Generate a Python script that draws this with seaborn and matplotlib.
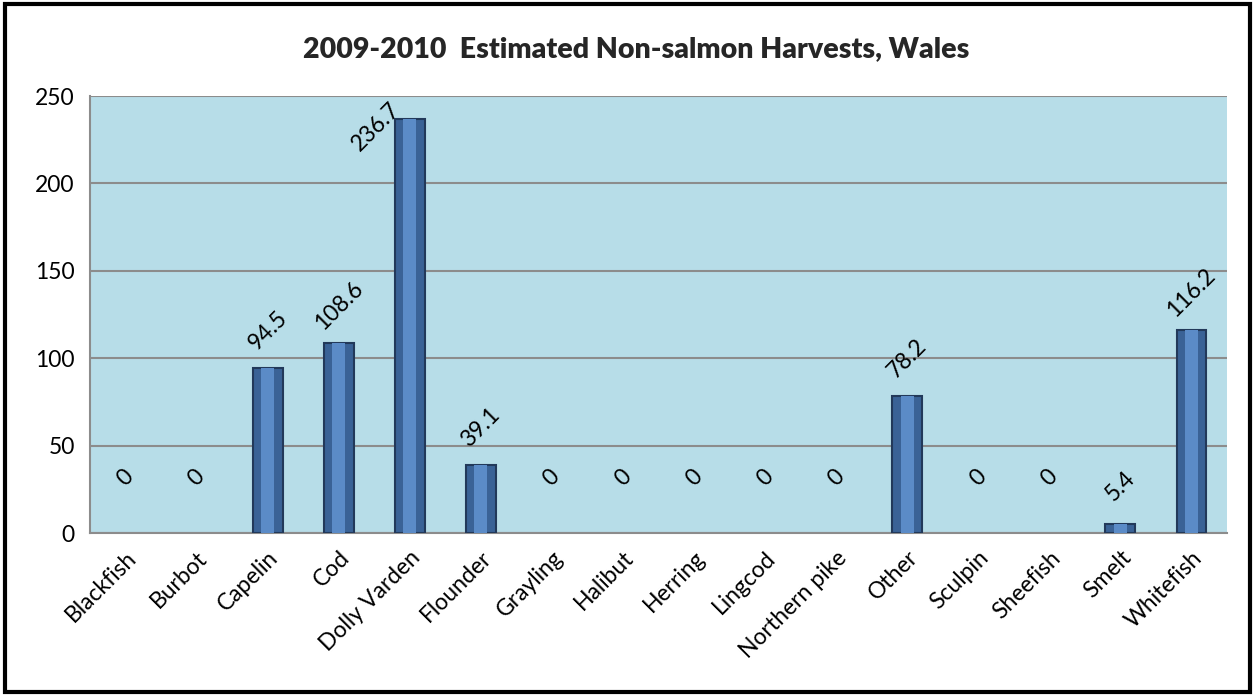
import matplotlib
matplotlib.use("Agg")
import matplotlib.pyplot as plt
import seaborn as sns
import pandas as pd
from matplotlib.patches import Rectangle

species = ['Blackfish', 'Burbot', 'Capelin', 'Cod', 'Dolly Varden', 'Flounder',
           'Grayling', 'Halibut', 'Herring', 'Lingcod', 'Northern pike', 'Other',
           'Sculpin', 'Sheefish', 'Smelt', 'Whitefish']
harvest = [0, 0, 94.5, 108.6, 236.7, 39.1, 0, 0, 0, 0, 0, 78.2, 0, 0, 5.4, 116.2]
yticks = [0, 50, 100, 150, 200, 250]

sns.set_style("white")
plt.rcParams['font.family'] = ['Lato', 'DejaVu Sans']

df = pd.DataFrame({'Species': species, 'Harvest': harvest})

fig = plt.figure(figsize=(12.55, 6.96), dpi=100)
ax = fig.add_axes([0.0717, 0.234, 0.906, 0.628])
ax.set_facecolor('#B7DDE8')

# outer bar (dark edge) and lighter inner strip for a bevel look
sns.barplot(data=df, x='Species', y='Harvest', color='#3A6296', width=0.42,
            edgecolor='#22395A', linewidth=1.5, saturation=1, ax=ax, zorder=3)
sns.barplot(data=df, x='Species', y='Harvest', color='#5B8BC7', width=0.18,
            linewidth=0, saturation=1, ax=ax, zorder=4)
for p in ax.patches:
    if p.get_height() == 0:
        p.set_visible(False)

ax.set_ylim(0, 250)
ax.set_xlim(-0.5, len(species) - 0.5)
ax.set_yticks(yticks)
ax.grid(axis='y', color='#8C8C8C', linewidth=1.5, zorder=1)
ax.set_axisbelow(True)

for s in ['top', 'right']:
    ax.spines[s].set_visible(False)
for s in ['left', 'bottom']:
    ax.spines[s].set_color('#8C8C8C')
    ax.spines[s].set_linewidth(1.5)

ax.set_xlabel('')
ax.set_ylabel('')
ax.set_xticks(range(len(species)))
ax.set_xticklabels(species, rotation=45, ha='right', rotation_mode='anchor',
                   fontsize=16.5, color='black')
ax.tick_params(axis='x', length=0, pad=10)
ax.set_xticks([i - 0.5 for i in range(len(species) + 1)], minor=True)
ax.tick_params(axis='x', which='minor', length=7, color='#8C8C8C', width=1.5)
ax.tick_params(axis='y', length=7, color='#8C8C8C', width=1.5, labelsize=16.5,
               labelcolor='black', pad=4)

for i, v in enumerate(harvest):
    label = f'{v:g}'
    if v == 0:
        dx, dy = 0, 40
    elif v > 220:
        dx, dy = -24, -5
    else:
        dx, dy = 0, 27
    ax.annotate(label, xy=(i, v), xytext=(dx, dy), textcoords='offset points',
                ha='center', va='center', rotation=45, fontsize=16.5,
                color='black', zorder=5)

fig.text(0.507, 0.929, '2009-2010  Estimated Non-salmon Harvests, Wales',
         ha='center', va='center', fontsize=20.5, fontweight='heavy')

fig.patches.append(Rectangle((0.004, 0.006), 0.992, 0.988, transform=fig.transFigure,
                             fill=False, edgecolor='black', linewidth=3))

fig.savefig('out.png', dpi=100)
